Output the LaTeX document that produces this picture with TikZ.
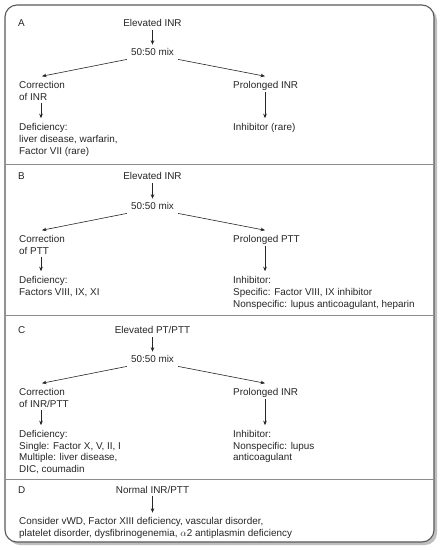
\documentclass[tikz,border=0pt]{standalone}
\usepackage{fontspec}
\setmainfont{Liberation Sans}
\usetikzlibrary{arrows.meta,calc}
\begin{document}
\begin{tikzpicture}[x=1pt,y=-1pt,
  txt/.style={inner sep=0pt,font=\fontsize{9.9}{12}\selectfont,text=black!85,align=left},
  ctr/.style={txt,anchor=base},
  lft/.style={txt,anchor=base west},
  arr/.style={draw=black!85,line width=0.6pt,-{Stealth[length=4.5pt,width=3.6pt]}},
  divider/.style={draw=black!45,line width=0.7pt},
  frame/.style={draw=black!65,line width=1.1pt,rounded corners=12pt}]
\useasboundingbox (0,0) rectangle (441,550);
% shadow and frame
\fill[black!25,rounded corners=12pt] (8,8) rectangle (437,545);
\filldraw[fill=white,frame] (5,5) rectangle (434,542);
\draw[divider] (5,164) -- (434,164);
\draw[divider] (5,315) -- (434,315);
\draw[divider] (5,479) -- (434,479);

% Panel A (base anchors are at the LAST line's baseline)
\node[lft] (labA) at (18,26.6) {A};
\node[ctr] (elevA) at (152.5,26.6) {Elevated INR};
\node[ctr] (mixA) at (152.5,55.6) {50:50 mix};
\node[lft] (corrA) at (19,100.6) {Correction\\of INR};
\node[lft] (prolA) at (233,88.6) {Prolonged INR};
\node[lft] (defA) at (19,154.6) {Deficiency:\\liver disease, warfarin,\\Factor VII (rare)};
\node[lft] (inhA) at (233,130.6) {Inhibitor (rare)};
\draw[arr] ($(elevA.south)+(0,3.5)$) -- ($(mixA.north)+(0,-3.5)$);
\draw[arr] ($(mixA.south west)+(-4,3.5)$) -- ($(corrA.north west)+(23,-5)$);
\draw[arr] ($(mixA.south east)+(4,3.5)$) -- ($(prolA.north west)+(32,-5)$);
\draw[arr] ($(corrA.south west)+(22,2.5)$) -- ($(defA.north west)+(22,-5)$);
\draw[arr] ($(prolA.south west)+(32,1.5)$) -- ($(inhA.north west)+(32,-5)$);

% Panel B
\node[lft] (labB) at (18,179.6) {B};
\node[ctr] (elevB) at (152.5,179.6) {Elevated INR};
\node[ctr] (mixB) at (152.5,209.6) {50:50 mix};
\node[lft] (corrB) at (19,254.6) {Correction\\of PTT};
\node[lft] (prolB) at (233,242.6) {Prolonged PTT};
\node[lft] (defB) at (19,295.6) {Deficiency:\\Factors VIII, IX, XI};
\node[lft] (inhB) at (233,307.6) {Inhibitor:\\Specific: Factor VIII, IX inhibitor\\Nonspecific: lupus anticoagulant, heparin};
\draw[arr] ($(elevB.south)+(0,3.5)$) -- ($(mixB.north)+(0,-3.5)$);
\draw[arr] ($(mixB.south west)+(-4,3.5)$) -- ($(corrB.north west)+(23,-5)$);
\draw[arr] ($(mixB.south east)+(4,3.5)$) -- ($(prolB.north west)+(32,-5)$);
\draw[arr] ($(corrB.south west)+(22,2.5)$) -- ($(defB.north west)+(22,-5)$);
\draw[arr] ($(prolB.south west)+(32,1.5)$) -- ($(inhB.north west)+(32,-5)$);

% Panel C
\node[lft] (labC) at (18,333.6) {C};
\node[ctr] (elevC) at (152.5,333.6) {Elevated PT/PTT};
\node[ctr] (mixC) at (152.5,362.6) {50:50 mix};
\node[lft] (corrC) at (19,407.6) {Correction\\of INR/PTT};
\node[lft] (prolC) at (233,395.6) {Prolonged INR};
\node[lft,font=\fontsize{9.9}{11.5}\selectfont] (defC) at (19,472) {Deficiency:\\Single: Factor X, V, II, I\\Multiple: liver disease,\\DIC, coumadin};
\node[lft,font=\fontsize{9.9}{11.5}\selectfont] (inhC) at (233,460.5) {Inhibitor:\\Nonspecific: lupus\\anticoagulant};
\draw[arr] ($(elevC.south)+(0,3.5)$) -- ($(mixC.north)+(0,-3.5)$);
\draw[arr] ($(mixC.south west)+(-4,3.5)$) -- ($(corrC.north west)+(23,-5)$);
\draw[arr] ($(mixC.south east)+(4,3.5)$) -- ($(prolC.north west)+(32,-5)$);
\draw[arr] ($(corrC.south west)+(22,2.5)$) -- ($(defC.north west)+(22,-5)$);
\draw[arr] ($(prolC.south west)+(32,1.5)$) -- ($(inhC.north west)+(32,-5)$);

% Panel D
\node[lft] (labD) at (18,493.6) {D};
\node[ctr] (elevD) at (152.5,493.6) {Normal INR/PTT};
\node[lft] (consD) at (19,536.6) {Consider vWD, Factor XIII deficiency, vascular disorder,\\platelet disorder, dysfibrinogenemia, $\alpha$2 antiplasmin deficiency};
\draw[arr] ($(elevD.south)+(0,2)$) -- ($(consD.north west)+(133.5,-4.5)$);
\end{tikzpicture}
\end{document}
